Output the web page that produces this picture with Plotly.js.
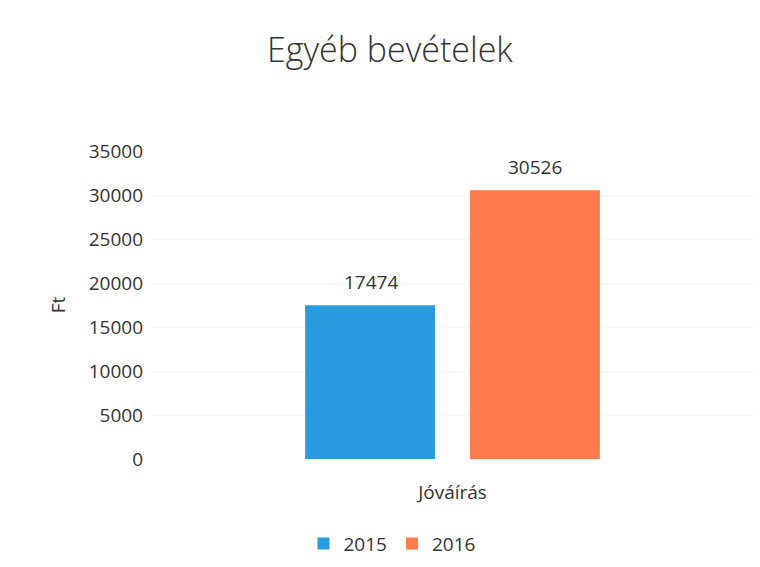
<!DOCTYPE html>
<html>
<head>
<meta charset="utf-8">
<script src="https://cdn.plot.ly/plotly-3.0.1.min.js"></script>
<style>html,body{margin:0;padding:0;background:#fff;}#chart{width:760px;height:567px;}</style>
</head>
<body>
<div id="chart"></div>
<script>
const categories = ["Jóváírás"];
const seriesNames = ["2015", "2016"];
const values2015 = [17474];
const values2016 = [30526];
const yTicks = [0, 5000, 10000, 15000, 20000, 25000, 30000, 35000];
const colors = ["#2B9BE0", "#FF7B4B"];

const font = "Open Sans, Liberation Sans, sans-serif";
const allSeries = [values2015, values2016];
const traces = allSeries.map((vals, i) => ({
  type: "bar",
  name: seriesNames[i],
  x: categories,
  y: vals,
  marker: {color: colors[i]},
  hoverinfo: "none"
}));

const annotations = [];
allSeries.forEach((vals, i) => {
  vals.forEach((v, j) => {
    annotations.push({
      x: categories[j], y: v, xref: "x", yref: "y",
      xshift: i === 0 ? -82 : 82, yshift: 23,
      text: String(v), showarrow: false, yanchor: "middle",
      font: {family: font, size: 19, color: "#333"}
    });
  });
});

const layout = {
  width: 760, height: 567,
  paper_bgcolor: "#fff", plot_bgcolor: "#fff",
  margin: {l: 150, r: 5, t: 151, b: 108, autoexpand: false},
  title: {text: "Egyéb bevételek", x: 0.513, xanchor: "center", y: 0.912, yanchor: "middle",
          font: {family: font, size: 34, color: "#333", weight: 300}},
  barmode: "group",
  bargap: 0.455,
  bargroupgap: 0.212,
  showlegend: true,
  legend: {orientation: "h", x: 0.40, xanchor: "center", y: -0.275, yanchor: "middle",
           font: {family: font, size: 19, color: "#333"}, itemwidth: 30},
  annotations: annotations,
  xaxis: {showgrid: false, showline: false, zeroline: false, ticks: "",
          ticklabelstandoff: 20, automargin: false,
          tickfont: {family: font, size: 19, color: "#333"}},
  yaxis: {range: [0, 35000], tickvals: yTicks, ticktext: yTicks.map(String),
          showgrid: true, gridcolor: "#f5f5f5", zeroline: false, showline: false,
          ticks: "", ticklabelstandoff: 6, automargin: false,
          tickfont: {family: font, size: 19, color: "#333"},
          title: {text: "Ft", standoff: 18, font: {family: font, size: 19, color: "#333"}}}
};

Plotly.newPlot("chart", traces, layout, {displayModeBar: false, staticPlot: true});
</script>
</body>
</html>
